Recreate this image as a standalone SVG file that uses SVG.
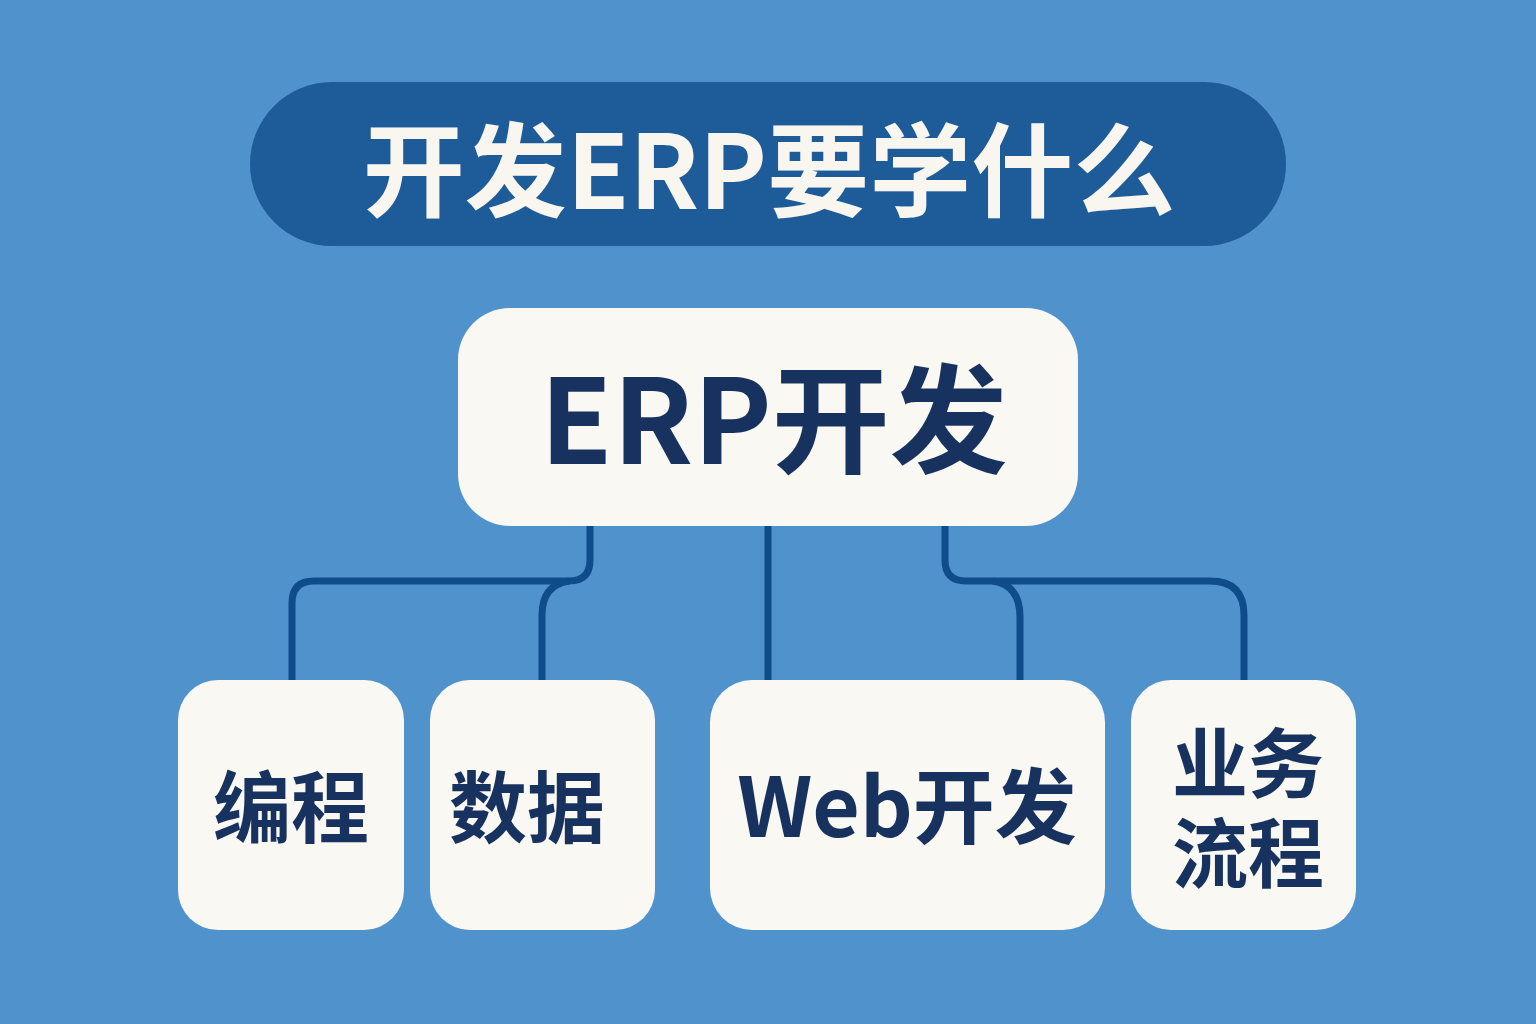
<svg xmlns="http://www.w3.org/2000/svg" width="1536" height="1024" viewBox="0 0 1536 1024">
<style>
.bg{fill:#5093cc}
.box{fill:#faf8f2}
.lbl{font-family:"Noto Sans CJK SC","Noto Sans",sans-serif;font-weight:700;fill:#17325e;text-anchor:middle}
.conn{fill:none;stroke:#0e4c8a;stroke-width:7;stroke-linecap:butt;stroke-linejoin:round}
</style>
<rect class="bg" x="0" y="0" width="1536" height="1024"/>
<g id="title">
<rect x="250" y="82" width="1036" height="164" rx="82" fill="#1e5b99"/>
<text x="769" y="209" font-family="Noto Sans CJK SC,sans-serif" font-weight="700" font-size="102" fill="#f8f6ef" text-anchor="middle">开发ERP要学什么</text>
</g>
<g id="connectors">
<path class="conn" d="M590 526 V560 Q590 581 569 581 H314 Q292 581 292 603 V680"/>
<path class="conn" d="M569 581 Q542 585 542 615 V680"/>
<path class="conn" d="M768 526 V680"/>
<path class="conn" d="M945 526 V560 Q945 581 966 581 H1210 Q1244 581 1244 615 V680"/>
<path class="conn" d="M993 581 Q1020 585 1020 617 V680"/>
</g>
<g id="root">
<rect class="box" x="458" y="308" width="620" height="218" rx="52"/>
<text class="lbl" x="774" y="464" font-size="118">ERP开发</text>
</g>
<g id="node-programming">
<rect class="box" x="178" y="680" width="226" height="250" rx="40"/>
<text class="lbl" x="291" y="837" font-size="78">编程</text>
</g>
<g id="node-data">
<rect class="box" x="430" y="680" width="225" height="250" rx="40"/>
<text class="lbl" x="527" y="837" font-size="78">数据</text>
</g>
<g id="node-web">
<rect class="box" x="710" y="680" width="395" height="250" rx="42"/>
<text class="lbl" x="907" y="837" font-size="82">Web开发</text>
</g>
<g id="node-business">
<rect class="box" x="1131" y="680" width="225" height="250" rx="40"/>
<text class="lbl" x="1248" y="792" font-size="76">业务</text>
<text class="lbl" x="1248" y="882" font-size="76">流程</text>
</g>
</svg>
